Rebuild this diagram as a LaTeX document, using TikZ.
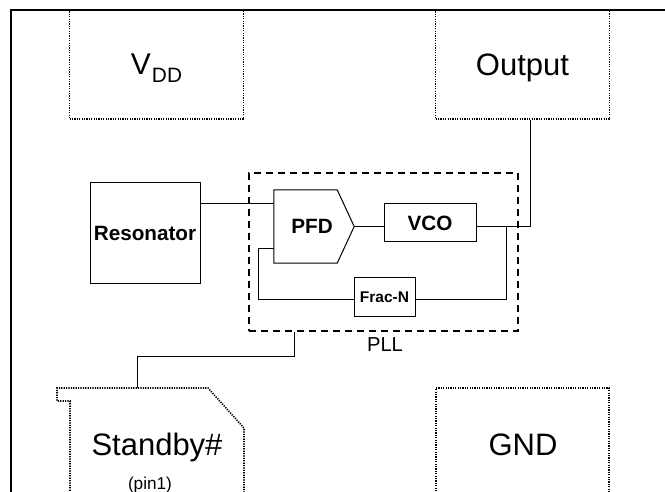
\documentclass[tikz,border=0pt]{standalone}
\usepackage{fontspec}
\setmainfont{Liberation Sans}
\usetikzlibrary{calc}
\begin{document}
\begin{tikzpicture}[x=1pt,y=-1pt,
  pinbox/.style={draw, line width=1.6pt, dash pattern=on 1.2pt off 1.2pt, inner sep=0pt},
  blockbox/.style={draw, line width=1pt, inner sep=0pt, font=\fontsize{20.7}{24}\selectfont\bfseries},
  wire/.style={line width=1pt},
  bigtext/.style={inner sep=0pt, anchor=base, font=\fontsize{31}{36}\selectfont},
]
\useasboundingbox (0,0) rectangle (665,492);
\clip (0,0) rectangle (665,492);
% pin boxes
\node[pinbox, minimum width=174pt, minimum height=109pt, text depth=0pt,
      font=\fontsize{30}{36}\selectfont] (vdd) at (156.5,64.5)
      {V\kern1pt\raisebox{-8pt}{\fontsize{20.8}{24}\selectfont DD}};
\node[pinbox, minimum width=174pt, minimum height=109pt, text depth=0pt,
      font=\fontsize{31}{36}\selectfont] (out) at (522.5,64.5) {Output};
\node[pinbox, minimum width=173pt, minimum height=140pt] (gnd) at (522.5,458) {};
\node[bigtext] (gndtxt) at (523,455) {GND};
\draw[line width=1.6pt, dash pattern=on 1.2pt off 1.2pt]
  (70,510) -- (70,401) -- (57,401) -- (57,388) -- (208,388) -- (244,428) -- (244,510);
\coordinate (sb) at (137,388);
\node[bigtext] (sbtxt) at (157,455) {Standby\#};
\node[inner sep=0pt, anchor=base, font=\fontsize{17.2}{20}\selectfont] (pin) at (150,489) {(pin1)};
% frame
\draw[line width=2pt] (680,10) -- (11,10) -- (11,510);
% blocks
\node[blockbox, minimum width=110pt, minimum height=101pt] (res) at (145,233.5) {Resonator};
\node[draw=none, inner sep=0pt, minimum width=80pt, minimum height=73pt] (pfd) at (314,226.5) {};
\draw[line width=1pt] (pfd.north west) -- ($(pfd.north east)+(-17,0)$) -- (pfd.east)
  -- ($(pfd.south east)+(-17,0)$) -- (pfd.south west) -- cycle;
\node[inner sep=0pt, anchor=base, font=\fontsize{20.7}{24}\selectfont\bfseries] (pfdtxt) at (312,234) {PFD};
\node[blockbox, minimum width=92pt, minimum height=38pt] (vco) at (430,223) {VCO};
\node[blockbox, minimum width=61pt, minimum height=39pt, font=\fontsize{15.5}{18}\selectfont\bfseries] (frac) at (384.5,297.5) {Frac-N};
\node[draw, line width=2pt, dash pattern=on 7pt off 5pt, minimum width=269pt, minimum height=158pt, inner sep=0pt] (pll) at (383.5,252) {};
\node[inner sep=0pt, anchor=base, font=\fontsize{20.2}{24}\selectfont] (plltxt) at (385,352) {PLL};
% connectors
\coordinate (resy) at (0,204);
\coordinate (outx) at (530.5,0);
\coordinate (br) at (506,226.5);
\coordinate (loopy) at (0,300);
\coordinate (leftx) at (258,249);
\coordinate (pllx) at (294,356);
\draw[wire] (res.east |- resy) -- (pfd.west |- resy);
\draw[wire] (pfd.east) -- (vco.west |- pfd.east);
\draw[wire] (vco.east |- pfd.east) -- (outx |- pfd.east) -- (outx |- out.south);
\draw[wire] (br) -- (br |- loopy) -- (frac.east |- loopy);
\draw[wire] (frac.west |- loopy) -- (leftx |- loopy) -- (leftx) -- (pfd.west |- leftx);
\draw[wire] (pllx |- pll.south) -- (pllx) -- (sb |- pllx) -- (sb);
\end{tikzpicture}
\end{document}
